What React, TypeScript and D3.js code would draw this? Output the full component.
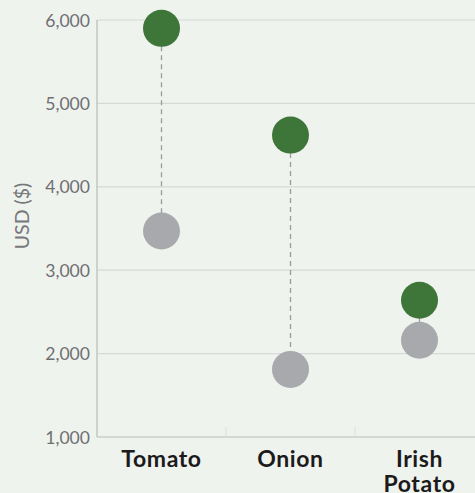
import React from "react";
import * as d3 from "d3";

const categories: string[][] = [["Tomato"], ["Onion"], ["Irish", "Potato"]];
const categoryKeys = ["Tomato", "Onion", "Irish Potato"];
const highValues = [5900, 4620, 2640];
const lowValues = [3470, 1810, 2160];
const yTicks = [1000, 2000, 3000, 4000, 5000, 6000];
const yLabel = "USD ($)";

const W = 475;
const H = 493;
const left = 97;
const right = 484;
const top = 20;
const bottom = 437;

export default function App() {
  const x = d3.scaleBand<string>().domain(categoryKeys).range([left, right]).padding(0);
  const y = d3.scaleLinear().domain([1000, 6000]).range([bottom, top]);
  const fmt = d3.format(",");
  const r = 18.5;
  const font = "Lato, 'Noto Sans', sans-serif";

  return (
    <svg width={W} height={H} style={{ position: "fixed", left: 0, top: 0, background: "#eff3ee" }}>
      <rect x={0} y={0} width={W} height={H} fill="#eff3ee" />
      {yTicks.map((t) => (
        <g key={t}>
          {t > 1000 && (
            <line x1={left} x2={W} y1={y(t)} y2={y(t)} stroke="#d6d9d8" strokeWidth={1.2} />
          )}
          <text
            x={90}
            y={y(t)}
            dy="0.38em"
            textAnchor="end"
            fontFamily={font}
            fontSize={17.6}
            fill="#6f6f72"
          >
            {fmt(t)}
          </text>
        </g>
      ))}
      <line x1={left} x2={left} y1={top} y2={bottom} stroke="#b9bbbd" strokeWidth={1.2} />
      <line x1={left} x2={W} y1={bottom} y2={bottom} stroke="#b9bbbd" strokeWidth={1.2} />
      {categoryKeys.slice(1).map((c) => (
        <line key={c} x1={x(c)!} x2={x(c)!} y1={bottom} y2={bottom - 10} stroke="#dcdfde" strokeWidth={1} />
      ))}
      <text
        transform={`translate(22,216) rotate(-90)`}
        textAnchor="middle"
        dy="0.36em"
        fontFamily={font}
        fontSize={19.5}
        fill="#77787b"
      >
        {yLabel}
      </text>
      {categoryKeys.map((c, i) => {
        const cx = x(c)! + x.bandwidth() / 2;
        return (
          <g key={c}>
            <line
              x1={cx}
              x2={cx}
              y1={y(highValues[i])}
              y2={y(lowValues[i])}
              stroke="#9a9b9e"
              strokeWidth={1.3}
              strokeDasharray="5,4"
            />
            <circle cx={cx} cy={y(lowValues[i])} r={r} fill="#a8a9ac" />
            <circle cx={cx} cy={y(highValues[i])} r={r} fill="#3e763a" />
            <text
              x={cx}
              y={466.5}
              textAnchor="middle"
              fontFamily={font}
              fontWeight={700}
              fontSize={23}
              letterSpacing={0.6}
              fill="#1c1a1b"
            >
              {categories[i].map((line, j) => (
                <tspan key={j} x={cx} dy={j === 0 ? 0 : 25}>
                  {line}
                </tspan>
              ))}
            </text>
          </g>
        );
      })}
    </svg>
  );
}
